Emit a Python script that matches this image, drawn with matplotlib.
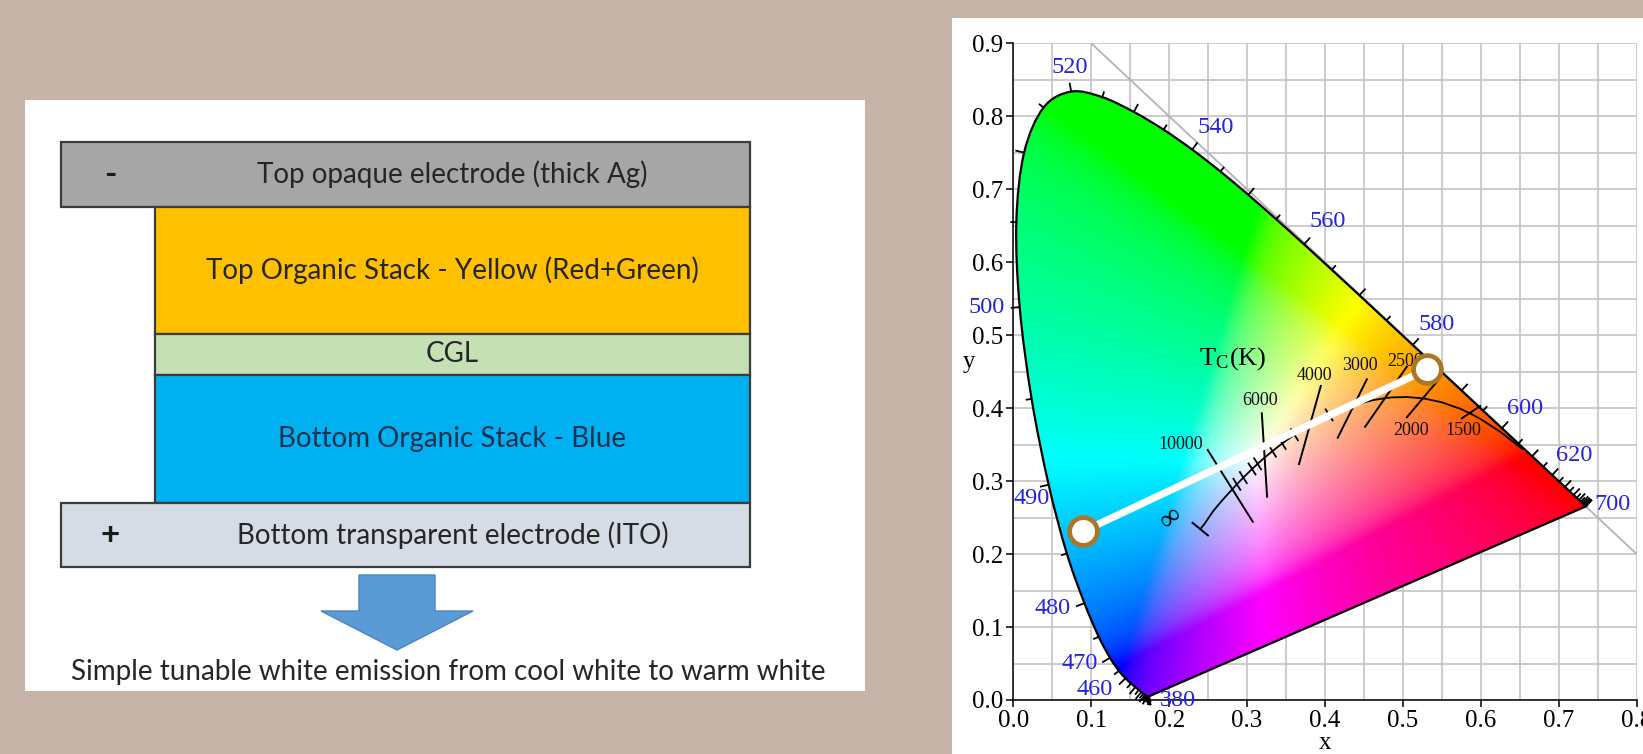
import numpy as np
import matplotlib
matplotlib.use("Agg")
import matplotlib.pyplot as plt
from matplotlib.patches import Rectangle, Polygon, PathPatch
from matplotlib.path import Path

W, H = 1643, 754

# CIE 1931 2-degree spectral locus
wl = [380, 385, 390, 395, 400, 405, 410, 415, 420, 425, 430, 435, 440, 445,
      450, 455, 460, 465, 470, 475, 480, 485, 490, 495, 500, 505, 510, 515,
      520, 525, 530, 535, 540, 545, 550, 555, 560, 565, 570, 575, 580, 585,
      590, 595, 600, 605, 610, 615, 620, 625, 630, 635, 640, 645, 650, 655,
      660, 665, 670, 680, 690, 700]
loc_x = [0.1741, 0.1740, 0.1738, 0.1736, 0.1733, 0.1730, 0.1726, 0.1721,
         0.1714, 0.1703, 0.1689, 0.1669, 0.1644, 0.1611, 0.1566, 0.1510,
         0.1440, 0.1355, 0.1241, 0.1096, 0.0913, 0.0687, 0.0454, 0.0235,
         0.0082, 0.0039, 0.0139, 0.0389, 0.0743, 0.1142, 0.1547, 0.1929,
         0.2296, 0.2658, 0.3016, 0.3373, 0.3731, 0.4087, 0.4441, 0.4788,
         0.5125, 0.5448, 0.5752, 0.6029, 0.6270, 0.6482, 0.6658, 0.6801,
         0.6915, 0.7006, 0.7079, 0.7140, 0.7190, 0.7230, 0.7260, 0.7283,
         0.7300, 0.7311, 0.7320, 0.7334, 0.7344, 0.7347]
loc_y = [0.0050, 0.0050, 0.0049, 0.0049, 0.0048, 0.0048, 0.0048, 0.0048,
         0.0051, 0.0058, 0.0069, 0.0086, 0.0109, 0.0138, 0.0177, 0.0227,
         0.0297, 0.0399, 0.0578, 0.0868, 0.1327, 0.2007, 0.2950, 0.4127,
         0.5384, 0.6548, 0.7502, 0.8120, 0.8338, 0.8262, 0.8059, 0.7816,
         0.7543, 0.7243, 0.6923, 0.6589, 0.6245, 0.5896, 0.5547, 0.5202,
         0.4866, 0.4544, 0.4242, 0.3965, 0.3725, 0.3514, 0.3340, 0.3197,
         0.3083, 0.2993, 0.2920, 0.2859, 0.2809, 0.2770, 0.2740, 0.2717,
         0.2700, 0.2689, 0.2680, 0.2666, 0.2656, 0.2653]

wl_labels = ["380", "460", "470", "480", "490", "500", "520", "540", "560",
             "580", "600", "620", "700"]
wl_lab_x = [0.211, 0.105, 0.085, 0.051, 0.024, -0.034, 0.073, 0.260, 0.403,
            0.543, 0.657, 0.720, 0.769]
wl_lab_y = [-0.001, 0.015, 0.050, 0.125, 0.276, 0.538, 0.867, 0.784, 0.656,
            0.514, 0.399, 0.335, 0.268]

# Planckian locus, 1000 K .. infinity
pl_x = [0.6528, 0.6251, 0.5985, 0.5857, 0.5732, 0.5493, 0.5267, 0.5056,
        0.4862, 0.4770, 0.4599, 0.4369, 0.4053, 0.3805, 0.3608, 0.3451,
        0.3325, 0.3221, 0.3135, 0.3064, 0.2952, 0.2869, 0.2807, 0.2719,
        0.2637, 0.2565, 0.2501, 0.2451, 0.2399]
pl_y = [0.3444, 0.3674, 0.3858, 0.3931, 0.3993, 0.4082, 0.4133, 0.4152,
        0.4147, 0.4137, 0.4106, 0.4041, 0.3907, 0.3768, 0.3636, 0.3516,
        0.3411, 0.3318, 0.3237, 0.3166, 0.3048, 0.2956, 0.2884, 0.2782,
        0.2682, 0.2588, 0.2489, 0.2410, 0.2342]

# isotherms
iso_labels = ["10000", "6000", "4000", "3000", "2500", "2000", "1500"]
iso_x0 = [0.2495, 0.3189, 0.3946, 0.4537, 0.5050, 0.5435, 0.5991]
iso_y0 = [0.3426, 0.3929, 0.4303, 0.4395, 0.4568, 0.4362, 0.4029]
iso_x1 = [0.3073, 0.3257, 0.3667, 0.4164, 0.4515, 0.5050, 0.5756]
iso_y1 = [0.2443, 0.2786, 0.3234, 0.3595, 0.3745, 0.3874, 0.3860]
iso_lab_x = [0.215, 0.317, 0.386, 0.445, 0.503, 0.510, 0.578]
iso_lab_y = [0.350, 0.411, 0.445, 0.459, 0.464, 0.369, 0.369]

# short ticks at 9000, 8000, 7000, 6500, 5500, 5000, 4500, 3500 K
minor_x = [0.2869, 0.2952, 0.3064, 0.3135, 0.3325, 0.3451, 0.3608, 0.4053]
minor_y = [0.2956, 0.3048, 0.3166, 0.3237, 0.3411, 0.3516, 0.3636, 0.3907]

# cool white -> warm white tuning range
tune_x = [0.0899, 0.5308]
tune_y = [0.2313, 0.4530]

# device stack, top to bottom
layer_names = ["Top opaque electrode (thick Ag)",
               "Top Organic Stack - Yellow (Red+Green)",
               "CGL",
               "Bottom Organic Stack - Blue",
               "Bottom transparent electrode (ITO)"]
layer_colors = ["#a6a6a6", "#ffc000", "#c5e0b4", "#00b0f0", "#d6dce5"]
layer_text_colors = ["#262626", "#262626", "#262626", "#1b3150", "#262626"]
layer_thick = [64.7, 127.3, 41.0, 128.3, 64.0]
layer_wide = [True, False, False, False, True]
layer_signs = ["-", "", "", "", "+"]
caption = "Simple tunable white emission from cool white to warm white"

plt.rcParams["mathtext.fontset"] = "stix"
serif = "Liberation Serif"
sans = "Lato"


def smooth_path(xs, ys):
    """Catmull-Rom curve through the points, as cubic Bezier segments."""
    p = np.column_stack([xs, ys])
    m = len(p)
    verts = [p[0]]
    codes = [Path.MOVETO]
    for i in range(m - 1):
        p0 = p[max(i - 1, 0)]
        p1, p2 = p[i], p[i + 1]
        p3 = p[min(i + 2, m - 1)]
        verts += [p1 + (p2 - p0) / 6, p2 - (p3 - p1) / 6, p2]
        codes += [Path.CURVE4] * 3
    verts += [p[0], p[0]]
    codes += [Path.LINETO, Path.CLOSEPOLY]
    return Path(verts, codes)


def box_blur(img, k, passes=2):
    kern = np.ones(k) / k
    out = img
    for _ in range(passes):
        for axis in (0, 1):
            out = np.apply_along_axis(
                lambda v: np.convolve(np.pad(v, k // 2, mode="edge"), kern, "valid"),
                axis, out)
    return out


fig = plt.figure(figsize=(W / 100, H / 100), dpi=100, facecolor="#c6b4a9")

# pixel-space canvas for the panels and the stack drawing
bg = fig.add_axes([0, 0, 1, 1], zorder=0)
bg.set_xlim(0, W)
bg.set_ylim(H, 0)
bg.axis("off")
bg.add_patch(Rectangle((25, 100), 840, 591, fc="white", ec="none"))
bg.add_patch(Rectangle((952, 17.7), W - 952 + 5, H, fc="white", ec="none"))

y = 142
for name, col, tcol, h, wide, sign in zip(layer_names, layer_colors,
                                          layer_text_colors, layer_thick,
                                          layer_wide, layer_signs):
    x0 = 61 if wide else 155
    bg.add_patch(Rectangle((x0, y), 750 - x0, h, fc=col, ec="#3c3c3c", lw=1.6))
    bg.text(452.5, y + h / 2, name, ha="center", va="center",
            fontsize=20, family=sans, color=tcol)
    if sign:
        bg.text(110, y + h / 2, sign, ha="center", va="center",
                fontsize=24, family=sans, color="#1a1a1a", fontweight="bold")
    y += h

ax_c = 397
arrow = [(ax_c - 38, 575), (ax_c + 38, 575), (ax_c + 38, 611), (ax_c + 76, 611),
         (ax_c, 650), (ax_c - 76, 611), (ax_c - 38, 611)]
bg.add_patch(Polygon(arrow, closed=True, fc="#5b9bd5", ec="#4a86bf", lw=1))
bg.text(448, 672, caption, ha="center", va="center", fontsize=20,
        family=sans, color="#262626")

# chromaticity diagram
left, right = 1013.3 / W, 1636.7 / W
bottom, top = 1 - 700 / H, 1 - 43.3 / H
ax = fig.add_axes([left, bottom, right - left, top - bottom], zorder=2)
ax.set_facecolor("white")
ax.set_xlim(0, 0.8)
ax.set_ylim(0, 0.9)
ax.set_xticks(np.arange(0, 0.81, 0.1))
ax.set_yticks(np.arange(0, 0.91, 0.1))
ax.set_xticks(np.arange(0, 0.81, 0.05), minor=True)
ax.set_yticks(np.arange(0, 0.91, 0.05), minor=True)
ax.grid(which="both", color="#c4c4c4", lw=1.2, zorder=0)
ax.set_axisbelow(True)
ax.tick_params(which="minor", length=0)
ax.tick_params(which="major", direction="out", length=5, width=1.1, pad=2,
               labelsize=18)
for lab in ax.get_xticklabels() + ax.get_yticklabels():
    lab.set_family(serif)
for s in ["top", "right"]:
    ax.spines[s].set_visible(False)
for s in ["left", "bottom"]:
    ax.spines[s].set_linewidth(1.1)
ax.set_xlabel("x", family=serif, fontsize=18, va="center")
ax.set_ylabel("y", family=serif, fontsize=18, rotation=0, ha="center", va="center")
ax.xaxis.set_label_coords(0.5, -0.066)
ax.yaxis.set_label_coords(-0.071, 0.514)

# x + y = 1 guide
ax.plot([0.1, 0.8], [0.9, 0.2], color="#b4b4b4", lw=1.3, zorder=1)

# colour fill: xyY with Y=1 -> sRGB, normalised to full brightness
gx = np.linspace(0, 0.8, 400)
gy = np.linspace(0, 0.9, 450)
GX, GY = np.meshgrid(gx, gy)
Yd = np.maximum(GY, 1e-3)
Xc = GX / Yd
Zc = (1 - GX - GY) / Yd
R = 3.2406 * Xc - 1.5372 - 0.4986 * Zc
G = -0.9689 * Xc + 1.8758 + 0.0415 * Zc
B = 0.0557 * Xc - 0.2040 + 1.0570 * Zc
rgb = np.clip(np.dstack([R, G, B]), 0, None)
rgb = rgb / (rgb.max(axis=2, keepdims=True) + 1e-12)
rgb = np.clip(box_blur(rgb, 7), 0, 1)
rgb = np.where(rgb <= 0.0031308, 12.92 * rgb, 1.055 * rgb ** (1 / 2.4) - 0.055)
im = ax.imshow(rgb, extent=(0, 0.8, 0, 0.9), origin="lower", aspect="auto",
               interpolation="bilinear", zorder=2)
locus_path = smooth_path(loc_x, loc_y)
clip = PathPatch(locus_path, transform=ax.transData, fc="none", ec="none")
im.set_clip_path(clip)
ax.add_patch(PathPatch(locus_path, fc="none", ec="black", lw=1.6, zorder=3))

# wavelength ticks, pointing outward
pts = ax.transData.transform(np.column_stack([loc_x, loc_y]))
centre = ax.transData.transform((0.33, 0.33))
inv = ax.transData.inverted()
n = len(wl)
for i, w in enumerate(wl):
    a = pts[max(i - 1, 0)]
    b = pts[min(i + 1, n - 1)]
    t = b - a
    if np.hypot(*t) < 1e-6:
        t = np.array([1.0, 0.0])
    t = t / np.hypot(*t)
    nv = np.array([t[1], -t[0]])
    if np.dot(nv, pts[i] - centre) < 0:
        nv = -nv
    L = 9 if w % 10 == 0 else 6
    seg = inv.transform([pts[i], pts[i] + nv * L])
    ax.plot(seg[:, 0], seg[:, 1], color="black", lw=1.3, zorder=3,
            clip_on=False, solid_capstyle="butt")

for lab, x, y in zip(wl_labels, wl_lab_x, wl_lab_y):
    ax.text(x, y, lab, ha="center", va="center", fontsize=17.5, family=serif,
            color="#2424dc", zorder=5, clip_on=False)

# Planckian locus with isotherms
ax.plot(pl_x, pl_y, color="black", lw=1.3, zorder=4)
for x0, y0, x1, y1 in zip(iso_x0, iso_y0, iso_x1, iso_y1):
    ax.plot([x0, x1], [y0, y1], color="black", lw=1.4, zorder=4)
for lab, x, y in zip(iso_labels, iso_lab_x, iso_lab_y):
    ax.text(x, y, lab, ha="center", va="center", fontsize=13, family=serif,
            color="#111111", zorder=4)

# short ticks follow the tilt of the neighbouring isotherms
iso_p0 = ax.transData.transform(np.column_stack([iso_x0, iso_y0]))
iso_p1 = ax.transData.transform(np.column_stack([iso_x1, iso_y1]))
iso_dir = iso_p1 - iso_p0
iso_ang = np.arctan2(iso_dir[:, 1], iso_dir[:, 0])
iso_mid_x = (np.array(iso_x0) + np.array(iso_x1)) / 2
for x, y in zip(minor_x, minor_y):
    ang = np.interp(x, iso_mid_x[:4][::-1], iso_ang[:4][::-1])
    c = ax.transData.transform((x, y))
    d = np.array([np.cos(ang), np.sin(ang)]) * 6.5
    seg = inv.transform([c - d, c + d])
    ax.plot(seg[:, 0], seg[:, 1], color="black", lw=1.3, zorder=4)

# end cap at infinity
c = ax.transData.transform((pl_x[-1], pl_y[-1]))
p = ax.transData.transform((pl_x[-2], pl_y[-2]))
t = (c - p) / np.hypot(*(c - p))
nv = np.array([t[1], -t[0]]) * 10
seg = inv.transform([c - nv, c + nv])
ax.plot(seg[:, 0], seg[:, 1], color="black", lw=1.4, zorder=4)
ax.text(0.203, 0.249, "\u221e", ha="center", va="center", fontsize=21,
        family=serif, rotation=40, zorder=4)
ax.text(0.281, 0.468, r"T$_\mathregular{C}$(K)", ha="center", va="center",
        fontsize=19, family=serif, zorder=4)

# tuning line between the two emission colours
ax.plot(tune_x, tune_y, color="white", lw=5.2, zorder=6, solid_capstyle="butt")
ax.plot(tune_x, tune_y, "o", ms=20, mfc="white", mec="#ad7526", mew=3.4,
        zorder=7)

fig.savefig("out.png", dpi=100, facecolor=fig.get_facecolor())
